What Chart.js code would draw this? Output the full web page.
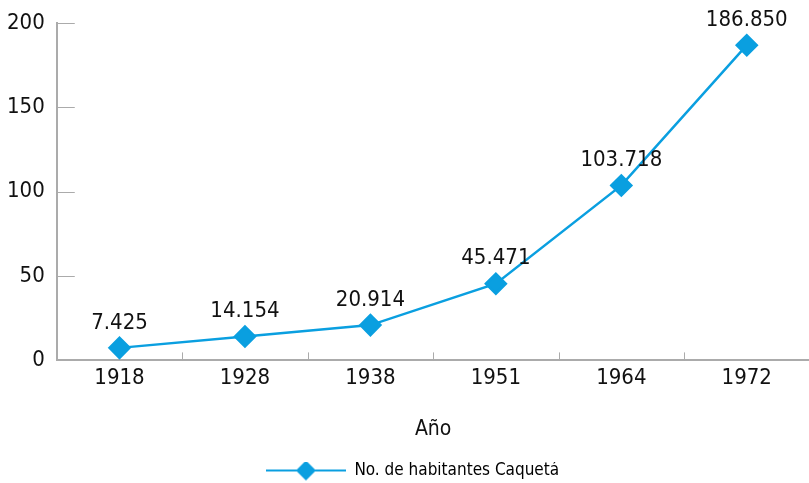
<!DOCTYPE html>
<html>
<head>
<meta charset="utf-8">
<script src="https://cdn.jsdelivr.net/npm/chart.js@4/dist/chart.umd.min.js"></script>
<style>
  html, body { margin: 0; padding: 0; background: #fff; overflow: hidden; }
  #wrap { width: 822px; height: 483px; position: relative; }
</style>
</head>
<body>
<div id="wrap"><canvas id="grafico"></canvas></div>
<script>
// Datos: habitantes del Caquetá (en miles)
const anios = ["1918", "1928", "1938", "1951", "1964", "1972"];
const habitantes = [7.425, 14.154, 20.914, 45.471, 103.718, 186.850];
const ticksY = [0, 50, 100, 150, 200];

const azul = "#0a9fe0";
const gris = "#ababab";
const fuente = "'DejaVu Sans Condensed', 'DejaVu Sans', sans-serif";

// icono de la leyenda: linea con rombo
const icono = document.createElement("canvas");
icono.width = 80; icono.height = 22;
(function () {
    const c = icono.getContext("2d");
    c.strokeStyle = azul; c.lineWidth = 2;
    c.beginPath(); c.moveTo(0, 11); c.lineTo(80, 11); c.stroke();
    c.fillStyle = azul;
    c.beginPath(); c.moveTo(40, 1); c.lineTo(50, 11); c.lineTo(40, 21); c.lineTo(30, 11); c.closePath(); c.fill();
})();

// marcas de los ejes hacia dentro y etiquetas de valores
const extras = {
    id: "extras",
    afterDatasetsDraw(chart) {
        const ctx = chart.ctx;
        const x = chart.scales.x, y = chart.scales.y;
        const area = chart.chartArea;
        ctx.save();
        ctx.strokeStyle = gris;
        ctx.lineWidth = 1;
        ticksY.forEach(v => {
            const py = Math.round(y.getPixelForValue(v)) + 0.5;
            ctx.beginPath(); ctx.moveTo(area.left, py); ctx.lineTo(area.left + 18, py); ctx.stroke();
        });
        for (let i = 1; i < anios.length; i++) {
            const px = Math.round((x.getPixelForValue(i - 1) + x.getPixelForValue(i)) / 2) + 0.5;
            ctx.beginPath(); ctx.moveTo(px, area.bottom); ctx.lineTo(px, area.bottom - 8); ctx.stroke();
        }
        // etiquetas
        ctx.fillStyle = "#111";
        ctx.font = "22px " + fuente;
        ctx.textAlign = "center";
        ctx.textBaseline = "middle";
        chart.getDatasetMeta(0).data.forEach((p, i) => {
            ctx.fillText(habitantes[i].toFixed(3), p.x, p.y - 25);
        });
        ctx.restore();
    }
};

new Chart(document.getElementById("grafico"), {
    type: "line",
    data: {
        labels: anios,
        datasets: [{
            label: "No. de habitantes Caquetá",
            data: habitantes,
            borderColor: azul,
            backgroundColor: azul,
            borderWidth: 2.5,
            pointStyle: "rectRot",
            pointRadius: 10,
            pointHoverRadius: 10,
            tension: 0,
            clip: false
        }]
    },
    options: {
        responsive: true,
        maintainAspectRatio: false,
        animation: false,
        layout: { padding: { top: 23, right: 0, left: 3, bottom: -6 } },
        plugins: {
            tooltip: { enabled: false },
            legend: {
                position: "bottom",
                labels: {
                    usePointStyle: true,
                    pointStyleWidth: 80,
                    color: "#111",
                    font: { family: fuente, size: 17 },
                    padding: 0,
                    generateLabels: () => [{
                        text: "No. de habitantes Caquetá",
                        pointStyle: icono,
                        fillStyle: azul,
                        strokeStyle: azul,
                        lineWidth: 0,
                        datasetIndex: 0
                    }]
                }
            }
        },
        scales: {
            x: {
                offset: true,
                grid: { display: false },
                border: { color: gris, width: 2 },
                ticks: { color: "#111", font: { family: fuente, size: 22 }, padding: -3 },
                title: { display: true, text: "Año", color: "#111", font: { family: fuente, size: 21 }, padding: { top: 28, bottom: 20 } }
            },
            y: {
                min: 0, max: 200,
                grid: { display: false },
                border: { color: gris, width: 2 },
                ticks: { stepSize: 50, color: "#111", font: { family: fuente, size: 22 }, padding: 4 }
            }
        }
    },
    plugins: [extras]
});
</script>
</body>
</html>
